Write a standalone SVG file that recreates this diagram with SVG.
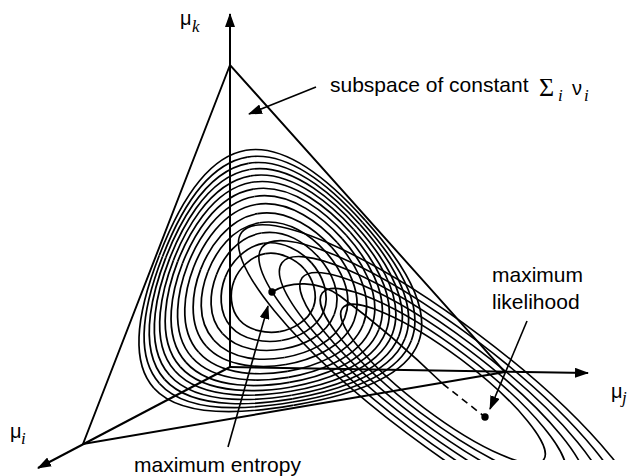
<svg xmlns="http://www.w3.org/2000/svg" xmlns:xlink="http://www.w3.org/1999/xlink" width="632" height="476" viewBox="0 0 632 476">
<style>
  .c { fill:none; stroke:#000; stroke-width:0.007; }
  .el { fill:none; stroke:#000; stroke-width:1.6; }
  .ax { fill:none; stroke:#000; stroke-width:2; }
  .ed { fill:none; stroke:#000; stroke-width:1.9; }
  .ar { fill:none; stroke:#000; stroke-width:1.6; }
  .t { font-family:"Liberation Sans", Arial, sans-serif; font-size:21px; fill:#000; }
  .m { font-family:"Liberation Sans", Arial, sans-serif; font-size:20px; fill:#000; }
  .s { font-family:"Liberation Serif", "Times New Roman", serif; font-style:italic; font-size:17px; fill:#000; }
</style>
<defs>
  <marker id="ah" viewBox="0 0 14 10" refX="13" refY="5" markerWidth="14" markerHeight="10" markerUnits="userSpaceOnUse" orient="auto">
    <path d="M0,0 L14,5 L0,10 Z" fill="#000"/>
  </marker>
  <clipPath id="clipB" clipPathUnits="userSpaceOnUse"><rect x="0" y="0" width="632" height="460"/></clipPath>
  <g id="seg">
    <path class="c" d="M.175,0 C.175,.0604 .1292,.1171 .083,.1438"/>
    <path class="c" d="M.22,0 C.22,.0777 .1597,.1444 .1025,.1775"/>
    <path class="c" d="M.265,0 C.265,.0973 .1899,.1698 .121,.2096"/>
    <path class="c" d="M.31,0 C.31,.1139 .2175,.1965 .1395,.2416"/>
    <path class="c" d="M.35,0 C.35,.1237 .2355,.222 .155,.2685"/>
    <path class="c" d="M.39,0 C.39,.1382 .2563,.2445 .17,.2944"/>
    <path class="c" d="M.425,0 C.425,.1493 .273,.265 .183,.317"/>
    <path class="c" d="M.457,0 C.457,.1607 .2871,.2822 .194,.336"/>
    <path class="c" d="M.487,0 C.487,.1679 .2979,.3002 .2045,.3542"/>
    <path class="c" d="M.515,0 C.515,.1768 .3079,.3153 .2135,.3698"/>
    <path class="c" d="M.543,0 C.543,.1843 .3155,.3305 .222,.3845"/>
    <path class="c" d="M.57,0 C.57,.1909 .322,.3453 .23,.3984"/>
    <path class="c" d="M.597,0 C.597,.1973 .3259,.3592 .237,.4105"/>
    <path class="c" d="M.627,0 C.627,.2044 .3284,.3739 .244,.4226"/>
  </g>
</defs>

<g id="entropy-contours" transform="matrix(243.65 -41.57 42.67 228.67 272.67 293.67)">
  <use xlink:href="#seg" transform="rotate(-90)"/>
  <use xlink:href="#seg" transform="rotate(-90) scale(1 -1)"/>
  <use xlink:href="#seg" transform="rotate(30)"/>
  <use xlink:href="#seg" transform="rotate(30) scale(1 -1)"/>
  <use xlink:href="#seg" transform="rotate(150)"/>
  <use xlink:href="#seg" transform="rotate(150) scale(1 -1)"/>
</g>

<g id="likelihood-contours" clip-path="url(#clipB)">
  <g transform="translate(443 384) rotate(37)">
    <ellipse class="el" rx="252" ry="61"/>
    <ellipse class="el" rx="226.8" ry="54.9"/>
    <ellipse class="el" rx="201.6" ry="48.8"/>
    <ellipse class="el" rx="176.4" ry="42.7"/>
    <ellipse class="el" rx="151.2" ry="36.6"/>
    <ellipse class="el" rx="126" ry="30.5"/>
  </g>
</g>

<g id="simplex">
  <path class="ed" d="M230,65 L83,444 L505,372 Z"/>
</g>

<g id="axes">
  <line class="ax" x1="230" y1="367" x2="230" y2="14" marker-end="url(#ah)"/>
  <line class="ax" x1="230" y1="367" x2="588" y2="373" marker-end="url(#ah)"/>
  <line class="ax" x1="230" y1="367" x2="38" y2="468" marker-end="url(#ah)"/>
</g>

<g id="connectors">
  <path class="ar" d="M272,292 C290,281 318,280 340,296 C375,322 410,352 443,384"/>
  <line class="ar" x1="443" y1="384" x2="485" y2="417" stroke-dasharray="7 5"/>
  <line class="ar" x1="316" y1="87" x2="249" y2="114" marker-end="url(#ah)"/>
  <line class="ar" x1="527" y1="321" x2="490" y2="409" marker-end="url(#ah)"/>
  <line class="ar" x1="228" y1="447" x2="268" y2="306" marker-end="url(#ah)"/>
</g>

<g id="max-entropy-point"><circle cx="272" cy="292" r="3.7" fill="#000"/></g>
<g id="max-likelihood-point"><circle cx="485" cy="417" r="3.7" fill="#000"/></g>

<g id="labels">
  <text class="m" x="180" y="25">μ</text><text class="s" x="192" y="32">k</text>
  <text class="m" x="10" y="438">μ</text><text class="s" x="21" y="444">i</text>
  <text class="m" x="611" y="398">μ</text><text class="s" x="622" y="403">j</text>
  <text class="t" x="330" y="92">subspace of constant</text>
  <text x="539" y="96" font-family="Liberation Serif, serif" font-size="26">Σ</text>
  <text class="s" x="558" y="101">i</text>
  <text x="572" y="95" font-family="Liberation Sans, sans-serif" font-size="20">ν</text>
  <text class="s" x="584" y="101">i</text>
  <text class="t" x="492" y="282">maximum</text>
  <text class="t" x="492" y="309">likelihood</text>
  <text class="t" x="134" y="472">maximum entropy</text>
</g>
</svg>
